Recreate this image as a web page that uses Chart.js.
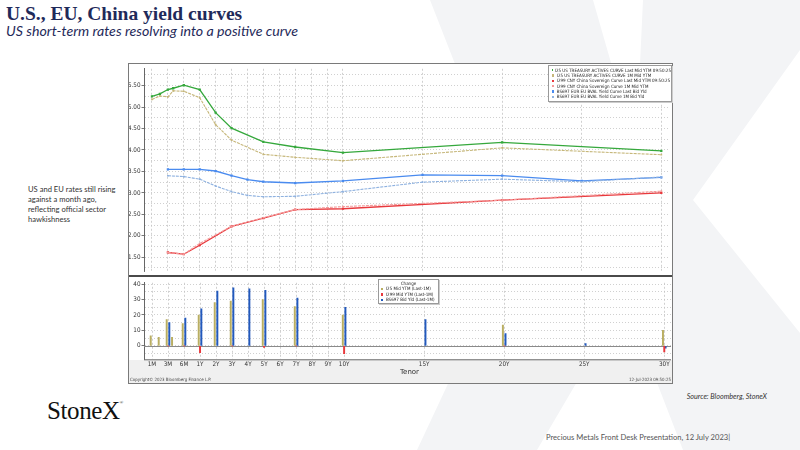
<!DOCTYPE html>
<html><head><meta charset="utf-8">
<meta name="format-detection" content="telephone=no,date=no,address=no">
<script src="https://cdn.jsdelivr.net/npm/chart.js@4.4.1/dist/chart.umd.min.js"></script>
<style>
html,body{margin:0;padding:0;background:#fff;}
body{width:800px;height:450px;position:relative;overflow:hidden;font-family:Lato,"Open Sans",sans-serif;}
.abs{position:absolute;}
#title{left:6px;top:3px;font-family:"Liberation Serif","DejaVu Serif",serif;font-weight:bold;font-size:19.5px;color:#1f2a5a;white-space:nowrap;}
#sub{left:6px;top:22px;font-family:Lato,sans-serif;font-style:italic;font-size:14.2px;color:#1f2a5a;white-space:nowrap;}
#note{left:28px;top:185px;font-family:Lato,sans-serif;font-size:7.6px;line-height:9.9px;color:#333;}
#frame{left:128px;top:63px;width:545px;height:321px;border:1px solid #7a7a7a;box-sizing:border-box;background:#fff;}
#band{left:129px;top:360px;width:543px;height:23px;background:#f0f0f0;}
#sep{left:129px;top:275px;width:543px;height:2px;background:#4a4a4a;}
canvas{position:absolute;}
.lg{font-family:"DejaVu Sans Condensed","DejaVu Sans",sans-serif;font-size:4.5px;color:#222;white-space:nowrap;}
.lgbox{background:#fff;border:1px solid #9a9a9a;box-sizing:border-box;box-shadow:1px 1px 0 #ccc;}
.row{height:5.35px;line-height:5.35px;display:flex;align-items:center;}
.sw{display:inline-block;width:2.4px;height:2.4px;margin-right:2.3px;}
.hs{display:inline-block;width:2.4px;height:2.4px;margin-right:2.5px;border:0.6px solid;box-sizing:border-box;}
#src{right:33px;top:392px;font-size:7.2px;font-style:italic;color:#333;font-family:Lato,sans-serif;}
#logo{left:47px;top:397px;font-family:"Liberation Serif",serif;font-size:25px;color:#111;letter-spacing:-0.4px;}
#logo sup{font-size:5px;vertical-align:top;position:relative;top:3px;}
#foot{left:546px;top:432px;font-size:7.6px;color:#555;font-family:Lato,sans-serif;text-decoration:none;}
.tiny{font-family:"DejaVu Sans Condensed","DejaVu Sans",sans-serif;font-size:4.4px;color:#444;white-space:nowrap;}
</style></head>
<body>
<svg class="abs" style="left:0;top:0" width="800" height="450">
  <polygon fill="#f3f4f6" points="430,0 593,0 636,150 643,0 800,0 800,50 693,200 800,333 800,450 683,450 625,300 537,450 417,450 520,230"/>
</svg>
<div id="title" class="abs">U.S., EU, China yield curves</div>
<div id="sub" class="abs">US short-term rates resolving into a positive curve</div>
<div id="note" class="abs">US and EU rates still rising<br>against a month ago,<br>reflecting official sector<br>hawkishness</div>

<div id="frame" class="abs"></div>
<div id="band" class="abs"></div>
<canvas id="top" width="543" height="212" style="left:129px;top:64px;width:543px;height:212px;"></canvas>
<div id="sep" class="abs"></div>
<canvas id="bot" width="543" height="105" style="left:129px;top:278px;width:543px;height:105px;"></canvas>
<div id="lgTop" class="abs lg lgbox" style="left:548px;top:65px;width:124px;height:37px;padding:1.5px 0 0 3px;"></div>
<div id="lgBot" class="abs lg lgbox" style="left:378px;top:279px;width:61px;height:25px;padding:1px 0 0 2px;"></div>
<div class="abs" style="left:400px;top:368px;font-family:'DejaVu Sans',sans-serif;font-size:7px;color:#333;">Tenor</div>
<div class="abs tiny" style="left:130px;top:377px;">Copyright© 2023 Bloomberg Finance L.P.</div>
<div class="abs tiny" style="right:129px;top:377px;">12-Jul-2023 09:50:25</div>

<div id="src" class="abs">Source: Bloomberg, StoneX</div>
<div id="logo" class="abs">StoneX<sup>®</sup></div>
<div id="foot" class="abs"><span style="color:#555">Precious Metals Front Desk Presentation, 12 July 2023|</span></div>

<script>
// ---------- DATA ----------
const tickLabels = ['1M','3M','6M','1Y','2Y','3Y','4Y','5Y','6Y','7Y','8Y','9Y','10Y','15Y','20Y','25Y','30Y'];

const usTenors = ['1M','2M','3M','4M','6M','1Y','2Y','3Y','5Y','7Y','10Y','20Y','30Y'];
const usLast   = [5.25,5.31,5.41,5.44,5.51,5.41,4.87,4.51,4.19,4.07,3.94,4.18,3.98];
const us1M     = [5.18,5.26,5.24,5.38,5.37,5.22,4.59,4.23,3.90,3.83,3.75,4.05,3.89];
const usChg    = [6.5,5.5,17,5.5,14.5,20,28,29,30,25.5,20,13.5,10];

const cnTenors = ['3M','6M','1Y','3Y','5Y','7Y','10Y','20Y','30Y'];
const cnLast   = [1.61,1.57,1.78,2.22,2.41,2.61,2.63,2.83,3.00];
const cn1M     = [1.61,1.57,1.82,2.22,2.42,2.61,2.68,2.83,3.04];
const cnChg    = [0,0,-4.5,0,-1,0,-5,0,-4];

const euTenors = ['3M','6M','1Y','2Y','3Y','4Y','5Y','7Y','10Y','15Y','20Y','25Y','30Y'];
const euLast   = [3.55,3.55,3.55,3.51,3.40,3.31,3.26,3.23,3.28,3.42,3.40,3.28,3.36];
const eu1M     = [3.40,3.38,3.32,3.16,3.03,2.94,2.91,2.92,3.03,3.25,3.32,3.26,3.37];
const euChg    = [15,18,24,35.5,37.5,37,36,31,25,17,8,1.5,-1.5];

const topLabels = [
  'I25 US TREASURY ACTIVES CURVE Last Mid YTM 09:50:25',
  'I25 US TREASURY ACTIVES CURVE 1M Mid YTM',
  'I299 CNY China Sovereign Curve Last Mid YTM 09:50:25',
  'I299 CNY China Sovereign Curve 1M Mid YTM',
  'BS697 EUR EU BVAL Yield Curve Last Bid Yld',
  'BS697 EUR EU BVAL Yield Curve 1M Bid Yld'
];
const botTitle = 'Change';
const botLabels = ['I25 Mid YTM (Last-1M)','I299 Mid YTM (Last-1M)','BS697 Bid Yld (Last-1M)'];

// ---------- helpers ----------
function tenorPos(t){
  const n = parseFloat(t);
  if (t.endsWith('M')) return n <= 3 ? -2 + (n-1)/2 : -1 + (n-3)/3;
  return n;
}
const pts = (ten, vals) => ten.map((t,i)=>({x:tenorPos(t), y:vals[i]}));
const XMIN = -2.5, XMAX = 30.42;
const tickFont = {family:"'DejaVu Sans Condensed','DejaVu Sans',sans-serif", size:6.3};
const gridCol = '#c4c4c4';

const colUS='#35a83c', colUS1='#c6b77a', colCN='#e8383c', colCN1='#f39b9b', colEU='#4a8bef', colEU1='#8fb2e0';
const barUS='#b9ae62', barCN='#e8383c', barEU='#2259bd';

function xScale(showLabels){
  return {
    type:'linear', min:XMIN, max:XMAX, offset:false,
    afterBuildTicks: s => { s.ticks = tickLabels.map(t=>({value:tenorPos(t)})); },
    ticks:{display:showLabels, autoSkip:false, maxRotation:0, font:tickFont, color:'#333', padding:1,
           callback:(v,i)=>tickLabels[i]},
    grid:{color:gridCol, lineWidth:0.8, drawTicks:false, offset:false},
    border:{display:false, dash:[2,2]},
    afterFit: s => { s.height = showLabels ? 23.7 : 0; }
  };
}

// ---------- top chart ----------
const lineDs = (label, data, color, dash, r, w) => ({
  label, data, borderColor:color, backgroundColor:color, borderWidth:w, borderDash:dash,
  pointStyle:'rect', pointRadius:r, pointBorderWidth:0, tension:0, fill:false
});
new Chart(document.getElementById('top'), {
  type:'line',
  data:{datasets:[
    lineDs(topLabels[0], pts(usTenors, usLast), colUS, [], 1.6, 1.3),
    lineDs(topLabels[1], pts(usTenors, us1M), colUS1, [3,1], 1.2, 1.1),
    lineDs(topLabels[2], pts(cnTenors, cnLast), colCN, [], 1.6, 1.3),
    lineDs(topLabels[3], pts(cnTenors, cn1M), colCN1, [3,1], 1.2, 1.1),
    lineDs(topLabels[4], pts(euTenors, euLast), colEU, [], 1.6, 1.3),
    lineDs(topLabels[5], pts(euTenors, eu1M), colEU1, [3,1], 1.2, 1.1)
  ].reverse()},
  options:{
    responsive:false, animation:false, events:[],
    layout:{padding:{left:0,right:1,top:0,bottom:0}},
    plugins:{legend:{display:false}, tooltip:{enabled:false}},
    scales:{
      x: xScale(false),
      y:{
        min:1.173, max:5.894,
        afterBuildTicks: s => { const t=[]; for(let v=1.25; v<=5.76; v+=0.25) t.push({value:Math.round(v*100)/100}); s.ticks=t; },
        ticks:{autoSkip:false, font:tickFont, color:'#333', padding:1,
               callback:v => (Math.round(v*100)%50===0) ? v.toFixed(2) : ''},
        grid:{color:gridCol, lineWidth:0.8, tickLength:2.5, tickColor:c => (Math.round(c.tick.value*100)%50===0)?'#555':'rgba(0,0,0,0)'},
        border:{display:true, color:'#666', width:1, dash:[1,2]},
        afterFit: s => { s.width = 15; }
      }
    }
  }
});

// ---------- bottom chart ----------
const zeroLine = {
  id:'zeroLine',
  beforeDatasetsDraw(chart){
    const {ctx, chartArea, scales} = chart;
    const y = scales.y.getPixelForValue(0);
    ctx.save(); ctx.strokeStyle='#8a8a8a'; ctx.lineWidth=1;
    ctx.beginPath(); ctx.moveTo(chartArea.left, Math.round(y)+0.5); ctx.lineTo(chartArea.right, Math.round(y)+0.5); ctx.stroke();
    ctx.strokeStyle='#666'; ctx.beginPath(); ctx.moveTo(chartArea.left, chartArea.bottom+0.5); ctx.lineTo(chartArea.right, chartArea.bottom+0.5); ctx.stroke();
    ctx.restore();
  }
};
const barDs = (label, data, color) => ({label, data, backgroundColor:color, borderWidth:0, barThickness:1.3});
new Chart(document.getElementById('bot'), {
  type:'bar',
  data:{datasets:[
    barDs(botLabels[0], pts(usTenors, usChg), barUS),
    barDs(botLabels[1], pts(cnTenors, cnChg), barCN),
    barDs(botLabels[2], pts(euTenors, euChg), barEU)
  ]},
  options:{
    responsive:false, animation:false, events:[],
    layout:{padding:{left:0,right:1,top:0,bottom:0}},
    plugins:{legend:{display:false}, tooltip:{enabled:false}},
    scales:{
      x: xScale(true),
      y:{
        min:-8.72, max:40.85,
        afterBuildTicks: s => { const t=[]; for(let v=-5; v<=40; v+=5) t.push({value:v}); s.ticks=t; },
        ticks:{autoSkip:false, font:tickFont, color:'#333', padding:1,
               callback:v => (v%10===0 && v>=0) ? String(v) : ''},
        grid:{color:gridCol, lineWidth:0.8, tickLength:2.5, tickColor:c => (c.tick.value%10===0 && c.tick.value>=0)?'#555':'rgba(0,0,0,0)'},
        border:{display:true, color:'#666', width:1, dash:[1,2]},
        afterFit: s => { s.width = 15; }
      }
    }
  },
  plugins:[zeroLine]
});

// ---------- HTML legends ----------
const topCols = [colUS, colUS1, colCN, colCN1, colEU, colEU1];
document.getElementById('lgTop').innerHTML = topLabels.map((l,i)=>
  `<div class="row"><span class="sw" style="background:${topCols[i]}"></span>${l}</div>`).join('');
const botCols = [barUS, barCN, barEU];
document.getElementById('lgBot').innerHTML =
  `<div class="row" style="justify-content:center;padding-right:2px">${botTitle}</div>` +
  botLabels.map((l,i)=>`<div class="row"><span class="hs" style="border-color:${botCols[i]}"></span>${l}</div>`).join('');
</script>
</body></html>
